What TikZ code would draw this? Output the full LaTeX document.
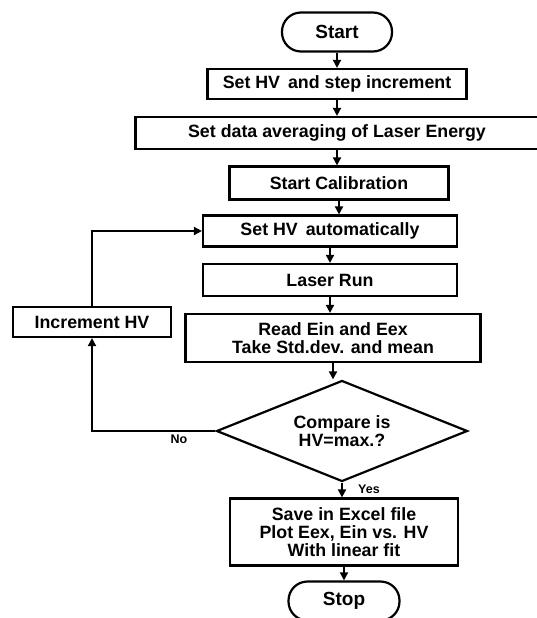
\documentclass[tikz,border=0pt]{standalone}
\usepackage{fontspec}
\setmainfont{Liberation Sans}
\usetikzlibrary{positioning}
\usetikzlibrary{shapes.geometric}
\usetikzlibrary{arrows.meta}
\tikzset{blk/.style={draw,line width=2.2pt,inner sep=2pt,font=\bfseries\fontsize{17.8}{18}\selectfont,align=center}}
\tikzset{term/.style={blk,rounded corners=19pt,minimum width=110pt,minimum height=39pt,font=\bfseries\fontsize{19}{20}\selectfont}}
\tikzset{ed/.style={font=\bfseries\fontsize{12.5}{13}\selectfont}}
\tikzset{>={Triangle[length=8pt,width=8pt]}}

\begin{document}
\begin{tikzpicture}[x=1pt, y=-1pt, on grid, line width=1.8pt]
        \useasboundingbox (0,0) rectangle (537,618);
        \node[term] (Start) at (337,32) {Start};
        \node[blk, below=52pt of Start, minimum width=259pt, minimum height=30pt] (SetHV) {Set HV\, and step increment};
        \node[blk, below=49pt of SetHV, minimum width=403pt, minimum height=32pt] (Avg) {Set data averaging of Laser Energy};
        \node[blk, below=50pt of Avg, xshift=2pt, minimum width=219pt, minimum height=33pt] (Calib) {Start Calibration};
        \node[blk, below=48pt of Calib, xshift=-9pt, minimum width=254pt, minimum height=31pt] (Auto) {Set HV\, automatically};
        \node[blk, below=49pt of Auto, minimum width=254pt, minimum height=32pt] (Laser) {Laser Run};
        \node[blk, below=58pt of Laser, xshift=3pt, minimum width=295pt, minimum height=48pt] (Read) {Read Ein and Eex\\Take Std.dev. and mean};
        \node[blk, diamond, aspect=2.5, inner sep=0pt, below=93pt of Read, xshift=9pt, minimum width=251pt, minimum height=101pt] (Cmp) {Compare is\\HV=max.?};
        \node[blk, below=101pt of Cmp, xshift=2pt, minimum width=228pt, minimum height=67pt] (Save) {Save in Excel file\\Plot Eex, Ein vs. HV\\With linear fit};
        \node[term, below=69pt of Save, minimum width=111pt] (Stop) {Stop};
        \node[blk, minimum width=158pt, minimum height=30pt] (Inc) at (92,322) {Increment HV};
        \coordinate (C1) at (Inc |- Cmp.west);
        \coordinate (C2) at (Inc |- Auto.west);
        \node[ed] (No) at (179,439) {No};
        \node[ed, right=12pt of Cmp.south, anchor=north west, yshift=2pt] (Yes) {Yes};
        \draw[->] (Start) -- (Start |- SetHV.north);
        \draw[->] (SetHV) -- (SetHV |- Avg.north);
        \draw[->] (Avg) -- (Avg |- Calib.north);
        \draw[->] (Calib) -- (Calib |- Auto.north);
        \draw[->] (Auto) -- (Auto |- Laser.north);
        \draw[->] (Laser) -- (Laser |- Read.north);
        \draw[->] (Read) -- (Read |- Cmp.north);
        \draw[->] (Cmp.south) -- (Cmp.south |- Save.north);
        \draw[->] (Save) -- (Save |- Stop.north);
        \draw[->] (Cmp.west) -- (C1) -- (Inc.south);
        \draw[->] (Inc.north) -- (C2) -- (Auto.west);
    \end{tikzpicture}
\end{document}
